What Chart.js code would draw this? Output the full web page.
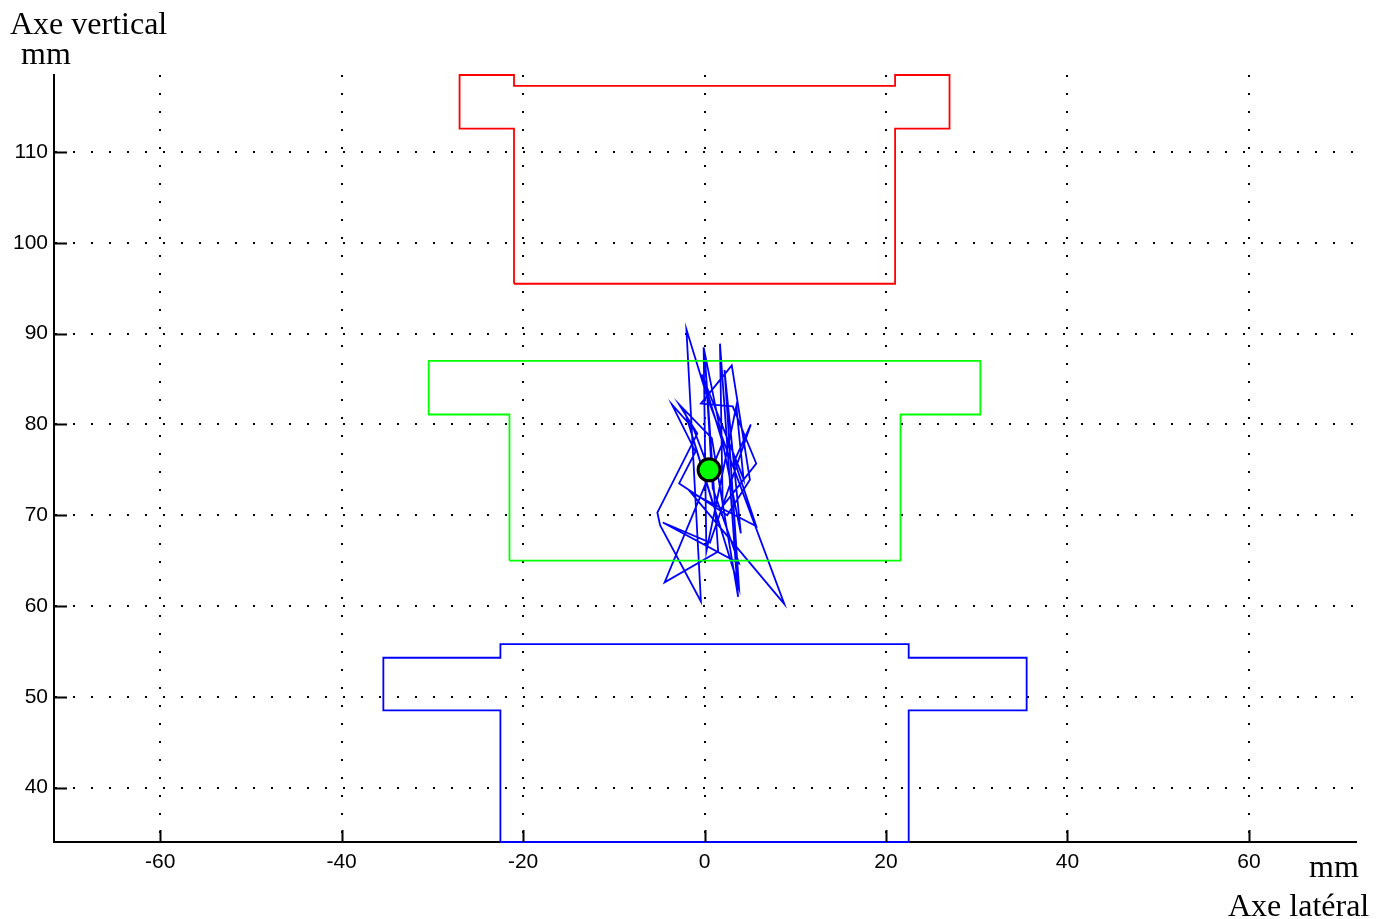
<!DOCTYPE html>
<html>
<head>
<meta charset="utf-8">
<script src="https://cdn.jsdelivr.net/npm/chart.js@4"></script>
<style>
  html, body { margin: 0; padding: 0; background: #fff; }
  #wrap { position: relative; width: 1385px; height: 919px; }
  .lbl { position: absolute; font-family: "Liberation Serif", "Times New Roman", serif;
         font-size: 32px; line-height: 32px; color: #000; white-space: nowrap; }
</style>
</head>
<body>
<div id="wrap">
  <canvas id="chart" width="1385" height="919"></canvas>
  <div class="lbl" style="left:10px; top:7px;">Axe vertical</div>
  <div class="lbl" style="left:21px; top:37px;">mm</div>
  <div class="lbl" style="left:1309px; top:850px;">mm</div>
  <div class="lbl" style="left:1228px; top:889px;">Axe latéral</div>
</div>
<script>
// ticks des axes
const xTicks = [-60, -40, -20, 0, 20, 40, 60];
const yTicks = [40, 50, 60, 70, 80, 90, 100, 110];

// contour rouge (haut)
const redX = [-21, -21, -27, -27, -21, -21, 21, 21, 27, 27, 21, 21, -21];
const redY = [95.5, 112.6, 112.6, 118.5, 118.5, 117.3, 117.3, 118.5, 118.5, 112.6, 112.6, 95.5, 95.5];

// contour vert (milieu)
const greenX = [-21.5, -21.5, -30.4, -30.4, 30.4, 30.4, 21.6, 21.6, -21.5];
const greenY = [65, 81.1, 81.1, 87, 87, 81.1, 81.1, 65, 65];

// contour bleu (bas)
const blueX = [-22.5, -22.5, -35.4, -35.4, -22.5, -22.5, 22.5, 22.5, 35.5, 35.5, 22.5, 22.5, -22.5];
const blueY = [34, 48.5, 48.5, 54.3, 54.3, 55.8, 55.8, 54.3, 54.3, 48.5, 48.5, 34, 34];

// trajectoire (bleu)
const walkX = [0.5, -1.2, -3.6, -1.0, -2.8, 2.5, 5.0, 3.0, -0.4, 3.1, 5.7, 2.0, 1.7, 3.7, 0.8, -2.8, -0.8, -5.2, -4.9, -0.4,
               -2.0, 0.3, 8.8, -1.5, 4.9, 5.7, 3.3, 5.1, 0.6, -4.6, 3.8, 0.9, 0.0, 1.5, -4.4, 2.0, -0.3, 4.3,
               3.5, 0.2, -0.1, 4.0, 2.2, 3.8, -2.2, 1.0];
const walkY = [75.0, 79.5, 82.2, 77.0, 73.5, 70.0, 73.9, 86.5, 82.3, 82.0, 75.7, 71.0, 88.9, 61.0, 78.5, 82.2, 79.0, 70.3, 68.9, 60.5,
               90.5, 83.0, 60.2, 72.5, 69.2, 68.8, 76.0, 80.0, 67.0, 69.2, 64.7, 73.0, 88.0, 66.0, 62.6, 78.0, 85.5, 74.0,
               82.0, 66.0, 88.5, 68.0, 86.0, 62.0, 81.5, 71.0];

// point moyen
const centerX = [0.5];
const centerY = [75.0];

const toPts = (xs, ys) => xs.map((x, i) => ({ x, y: ys[i] }));

// ticks vers l'intérieur (style MATLAB)
const innerTicks = {
  id: "innerTicks",
  afterDraw(chart) {
    const { ctx, chartArea, scales } = chart;
    ctx.save();
    ctx.setLineDash([]);
    ctx.strokeStyle = "#000";
    ctx.lineWidth = 2;
    ctx.beginPath();
    xTicks.forEach((v) => {
      const px = Math.round(scales.x.getPixelForValue(v)) + 0.5;
      ctx.moveTo(px, chartArea.bottom);
      ctx.lineTo(px, chartArea.bottom - 12);
    });
    yTicks.forEach((v) => {
      const py = Math.round(scales.y.getPixelForValue(v)) + 0.5;
      ctx.moveTo(chartArea.left, py);
      ctx.lineTo(chartArea.left + 13, py);
    });
    ctx.stroke();
    ctx.restore();
  },
};

const lineDs = (data, color) => ({
  data,
  showLine: true,
  borderColor: color,
  borderWidth: 1.8,
  pointRadius: 0,
  pointHoverRadius: 0,
  tension: 0,
  fill: false,
  clip: false,
  order: 1,
});

const tickFont = { family: "'Liberation Sans', Arial, sans-serif", size: 21 };

new Chart(document.getElementById("chart").getContext("2d"), {
  type: "scatter",
  data: {
    datasets: [
      lineDs(toPts(redX, redY), "#ff0000"),
      lineDs(toPts(greenX, greenY), "#00ff00"),
      lineDs(toPts(blueX, blueY), "#0000ff"),
      lineDs(toPts(walkX, walkY), "#0000ff"),
      {
        data: toPts(centerX, centerY),
        pointRadius: 11,
        pointBackgroundColor: "#00ff00",
        pointBorderColor: "#000",
        pointBorderWidth: 3,
        clip: false,
        order: 0, // dessiné au-dessus
      },
    ],
  },
  options: {
    responsive: false,
    animation: false,
    devicePixelRatio: 1,
    layout: { padding: { top: 75, right: 29, left: 0, bottom: 0 } },
    plugins: { legend: { display: false }, tooltip: { enabled: false } },
    scales: {
      x: {
        type: "linear",
        min: -71.7,
        max: 71.8,
        afterBuildTicks: (s) => { s.ticks = xTicks.map((v) => ({ value: v })); },
        afterFit: (s) => { s.height = 77; },
        ticks: { color: "#000", font: tickFont, padding: 8, maxRotation: 0 },
        grid: { color: "#000", lineWidth: 2, drawTicks: false },
        border: { display: true, color: "#000", width: 2, dash: [2, 16] },
      },
      y: {
        type: "linear",
        min: 34,
        max: 118.5,
        afterBuildTicks: (s) => { s.ticks = yTicks.map((v) => ({ value: v })); },
        afterFit: (s) => { s.width = 54; },
        ticks: { color: "#000", font: tickFont, padding: 6 },
        grid: { color: "#000", lineWidth: 2, drawTicks: false },
        border: { display: true, color: "#000", width: 2, dash: [2, 16] },
      },
    },
  },
  plugins: [innerTicks],
});
</script>
</body>
</html>
